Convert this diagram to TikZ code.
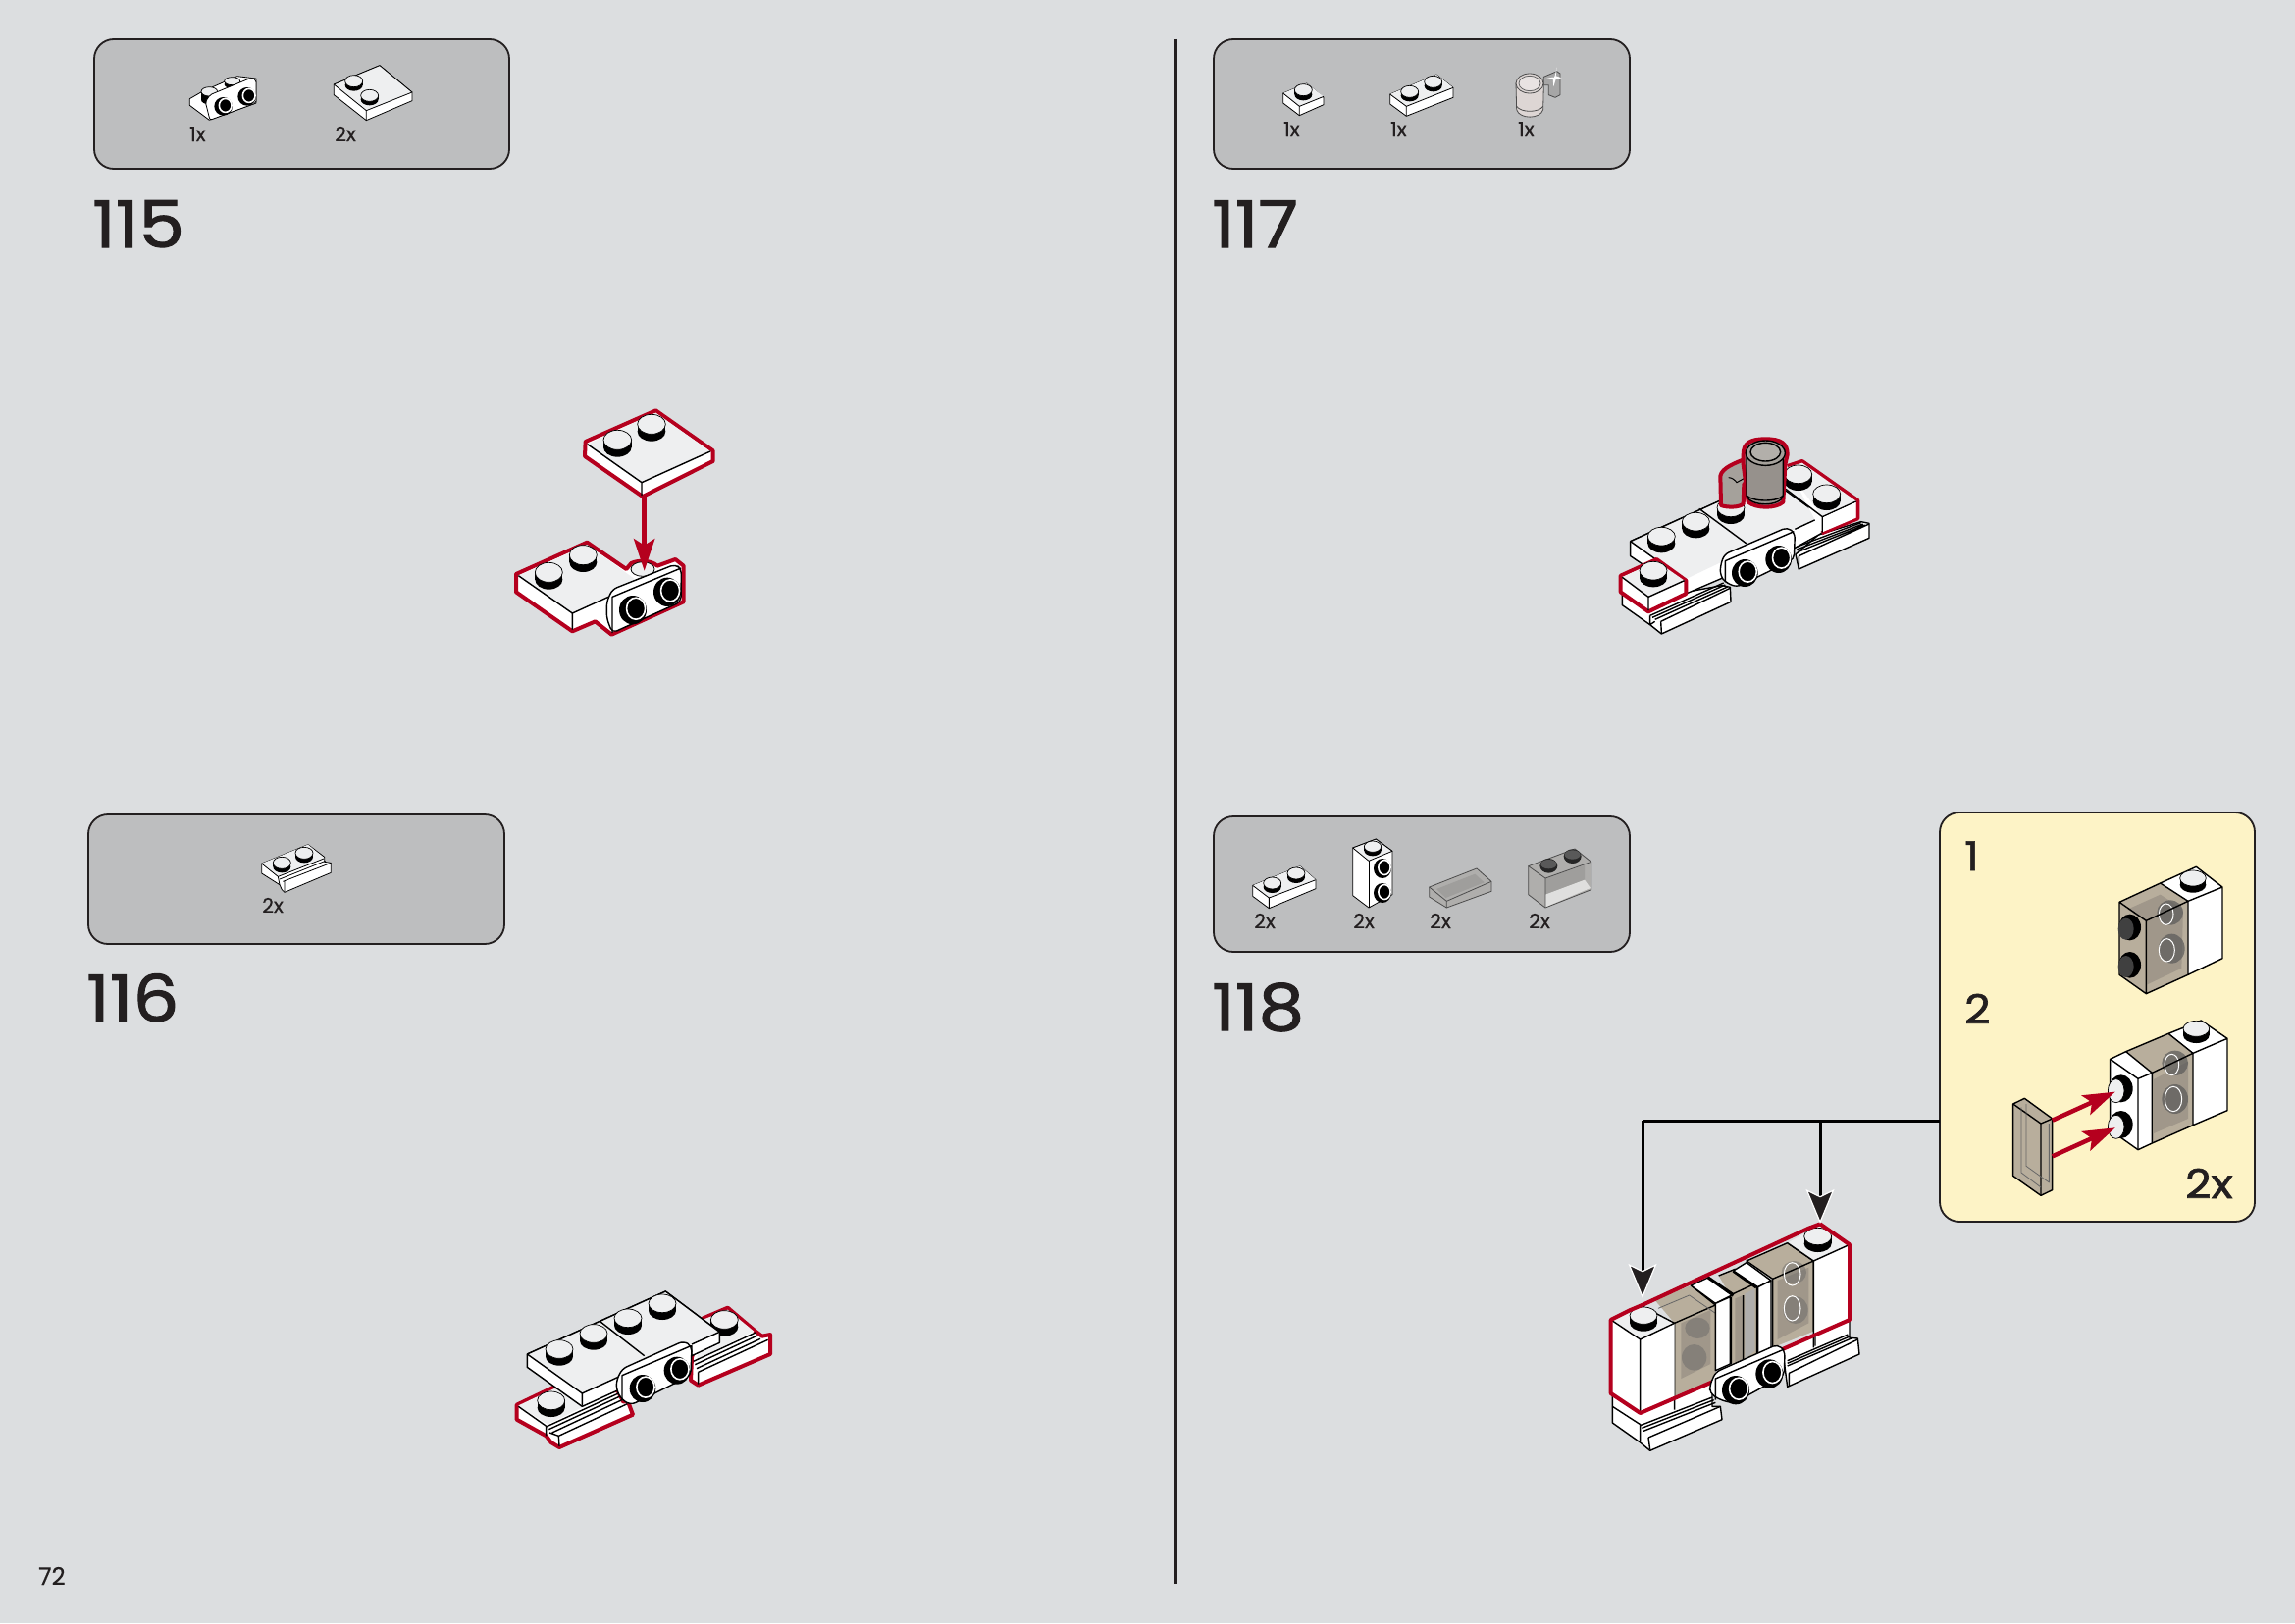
\documentclass[tikz,border=0pt]{standalone}
\usepackage{fontspec}
\setmainfont{Poppins}[FakeBold=0.35]
\newfontfamily\numf{Poppins}[FakeBold=1.6,FakeStretch=1.12]
\usetikzlibrary{arrows.meta}
\definecolor{bgc}{HTML}{DCDEE0}
\definecolor{panelc}{HTML}{BDBEBF}
\definecolor{yel}{HTML}{FDF3C6}
\definecolor{inkc}{HTML}{231F20}
\definecolor{redc}{HTML}{B5001E}
\definecolor{topc}{HTML}{EEEFF0}
\definecolor{cupd}{HTML}{96918C}
\definecolor{cupl}{HTML}{A5A19B}
\definecolor{cupt}{HTML}{DDD6D4}
\definecolor{cupi}{HTML}{E8E3E2}
\definecolor{transc}{HTML}{B8AE9C}
\definecolor{transd}{HTML}{A0978A}
\definecolor{transg}{HTML}{AFAEAC}
\definecolor{transh}{HTML}{9F9E9C}
\tikzset{
 zs/.style 2 args={shift={(#1,#2)},x=0.33333pt,y=-0.33333pt},
 panel/.style={draw=inkc,line width=1.8pt,fill=panelc,rounded corners=20pt,anchor=north west,inner sep=0pt,outer sep=0pt},
 stepnum/.style={anchor=base west,inner sep=0pt,text=inkc,font=\numf\fontsize{66}{66}\selectfont},
 cnt/.style={anchor=base west,inner sep=0pt,text=inkc,font=\fontsize{20.5}{20.5}\selectfont},
 big/.style={anchor=base west,inner sep=0pt,text=inkc,font=\numf\fontsize{41}{41}\selectfont},
 ln/.style={draw=black,line width=1.4pt,line join=round},
 thn/.style={draw=black,line width=0.8pt,line join=round},
 redo/.style={draw=redc,line width=4pt,line join=round},
 redarrow/.style={draw=redc,line width=4.5pt,-{Stealth[length=33pt,width=22pt,inset=7pt,fill=redc,color=redc,line width=0pt]}},
 blkline/.style={draw=black,line width=3pt},
 blkarrow/.style={draw=black,line width=3pt,-{Stealth[length=35pt,width=29pt,inset=7pt,fill=inkc,color=white,line width=1.2pt]}},
}
% stud: x y rx ry h
\newcommand{\stud}[5]{%
 \fill[black] (#1-#3,#2) rectangle (#1+#3,#2+#5);
 \fill[black] (#1,#2+#5) ellipse [x radius=#3,y radius=#4];
 \filldraw[fill=topc,draw=black,line width=0.7pt] (#1,#2) ellipse [x radius=#3,y radius=#4];
}
% side stud: x y rx ry
\newcommand{\sstud}[4]{%
 \fill[black] (#1,#2) ellipse [x radius=#3,y radius=#4];
 \draw[white,line width=1.6pt] (#1+0.22*#3,#2-0.1*#4) ellipse [x radius=0.68*#3,y radius=0.75*#4];
}
\begin{document}
\begin{tikzpicture}[x=1pt,y=-1pt]
\useasboundingbox (0,0) rectangle (2339,1654);
\fill[bgc] (0,0) rectangle (2339,1654);
% divider
\coordinate (dt) at (1198,40); \coordinate (db) at (1198,1614);
\draw[inkc,line width=3pt] (dt)--(db);
% panels
\node[panel,minimum width=423pt,minimum height=132pt] (p115) at (96,40) {};
\node[panel,minimum width=424pt,minimum height=132pt] (p116) at (90,830) {};
\node[panel,minimum width=424pt,minimum height=132pt] (p117) at (1237,40) {};
\node[panel,minimum width=424pt,minimum height=138pt] (p118) at (1237,832) {};
\node[panel,draw=inkc,fill=yel,minimum width=321pt,minimum height=417pt] (ypanel) at (1977,828) {};
% texts
\node[stepnum] (n115) at (94,252) {115};
\node[stepnum] (n116) at (88,1041) {116};
\node[stepnum] (n117) at (1235,252) {117};
\node[stepnum] (n118) at (1235,1050) {118};
\node[cnt,font=\fontsize{24.5}{24.5}\selectfont] (pg) at (39,1615) {72};
\node[cnt] (c1) at (193,144) {1x};
\node[cnt] (c2) at (341,144) {2x};
\node[cnt] (c3) at (267,930) {2x};
\node[cnt] (c4) at (1308,139) {1x};
\node[cnt] (c5) at (1417,139) {1x};
\node[cnt] (c6) at (1547,139) {1x};
\node[cnt] (c7) at (1278,946) {2x};
\node[cnt] (c8) at (1379,946) {2x};
\node[cnt] (c9) at (1457,946) {2x};
\node[cnt] (c10) at (1558,946) {2x};
\node[big] (y1) at (2002,887) {1};
\node[big] (y2) at (2002,1043) {2};
\node[big] (y3) at (2227,1221) {2x};
% ---------- parts panel 115
\begin{scope}[zs={80}{30}]
 \draw[thn,fill=white] (340,212)--(378,190)--(485,143)--(543,150)--(543,225)--(400,277)--(340,232)--cycle;
 \stud{400}{190}{25}{14}{25}
 \stud{470}{158}{24}{12}{10}
 \draw[thn,fill=white,rounded corners=2pt] (388,222)--(402,200)--(530,147)--(543,155)--(543,225)--(402,277)--cycle;
 \sstud{443}{235}{28}{28}
 \sstud{515}{205}{28}{28}
 \draw[thn,fill=white] (781,168)--(921,110)--(1020,192)--(1020,218)--(880,278)--(781,200)--cycle;
 \fill[topc] (781,168)--(921,110)--(1020,192)--(880,248)--cycle;
 \draw[thn] (781,168)--(921,110)--(1020,192)--(880,248)--cycle (880,248)--(880,278);
 \stud{842}{158}{27}{18}{12}
 \stud{890}{202}{27}{18}{12}
\end{scope}
% ---------- assembly 115
\begin{scope}[zs={500}{400}]
 \draw[redo,fill=white] (78,555)--(295,458)--(415,540)--(430,522)..controls (450,512) and (490,512)..(510,530)--(565,510)--(590,530)--(590,640)--(370,740)--(320,700)--(250,730)--(78,610)--cycle;
 \fill[topc] (85,560)--(295,465)--(440,570)--(355,628)--(250,675)--cycle;
 \draw[ln] (85,560)--(250,675)--(250,725) (250,675)--(360,625);
 \filldraw[fill=topc,draw=black,line width=0.8pt] (465,540) ellipse [x radius=36,y radius=22];
 \stud{178}{550}{42}{30}{22}
 \stud{283}{497}{42}{30}{22}
 \draw[ln,fill=white,rounded corners=5pt] (355,640)--(372,602)--(565,525)--(583,540)--(582,640)--(372,735)--(355,690)--cycle;
 \draw[ln] (372,735)--(372,625)--(582,537);
 \sstud{435}{665}{42}{44}
 \sstud{540}{610}{42}{44}
 \draw[redo,fill=white] (290,150)--(505,55)--(680,178)--(680,210)--(465,318)--(288,195)--cycle;
 \fill[topc] (296,158)--(505,62)--(672,180)--(462,275)--cycle;
 \draw[ln] (296,158)--(462,275)--(672,180) (462,275)--(462,315);
 \stud{388}{145}{43}{30}{22}
 \stud{492}{97}{43}{30}{22}
 \coordinate (ra1) at (470,318);
 \coordinate (ra2) at (470,545);
 \draw[redarrow] (ra1)--(ra2);
\end{scope}
% ---------- part panel 116
\begin{scope}[zs={90}{830}]
 \draw[thn,fill=white] (530,150)--(672,92)--(722,130)--(722,145)--(742,148)--(742,178)--(600,238)--(592,230)--(585,215)--(530,180)--cycle;
 \fill[topc] (530,150)--(672,92)--(720,133)--(580,190)--cycle;
 \draw[thn] (530,150)--(580,190)--(720,135) (585,198)--(725,142) (595,205)--(742,148) (600,205)--(600,238) (580,190)--(585,215);
 \stud{592}{148}{27}{18}{12}
 \stud{660}{118}{27}{18}{12}
\end{scope}
% ---------- assembly 116
\begin{scope}[zs={510}{1300}]
 % right rail plate
 \draw[redo,fill=white] (620,130)--(695,98)--(780,170)--(800,185)--(825,180)--(825,240)--(605,335)--(582,320)--(585,250)--cycle;
 \fill[topc] (625,132)--(695,104)--(775,170)--(600,255)--cycle;
 \stud{685}{135}{42}{28}{22}
 \draw[ln] (590,262)--(780,174) (595,272)--(786,183) (600,284)--(795,193) (605,295)--(818,196) (605,295)--(605,332);
 % left rail plate
 \draw[redo,fill=white] (50,395)--(165,340)--(200,340)--(300,360)--(358,350)--(375,385)--(390,385)--(405,425)--(180,525)--(155,510)--(140,490)--(50,440)--cycle;
 \fill[topc] (55,397)--(165,345)--(255,400)--(145,455)--cycle;
 \draw[ln] (55,400)--(140,460)--(140,490) (140,462)--(365,358) (148,470)--(372,366) (158,480)--(380,376) (178,490)--(388,392) (178,490)--(180,522) (150,480)--(178,490);
 \stud{155}{382}{42}{28}{22}
 % main plate
 \draw[ln,fill=white] (82,240)--(505,48)--(670,172)--(670,205)--(585,245)--(585,215)--(360,310)--(360,350)--(250,400)--(82,280)--cycle;
 \fill[topc] (82,240)--(505,48)--(670,172)--(585,210)--(360,310)--(250,360)--cycle;
 \draw[ln] (82,240)--(505,48)--(670,172)--(585,210) (360,310)--(250,360)--cycle (82,240)--(250,360)--(250,398) (305,140)--(440,245);
 \stud{180}{225}{42}{28}{22}
 \stud{285}{177}{42}{28}{22}
 \stud{390}{130}{42}{28}{22}
 \stud{495}{85}{42}{28}{22}
 % bracket
 \draw[ln,fill=white,rounded corners=5pt] (355,320)--(372,285)--(560,200)--(585,215)--(582,305)--(400,395)--(372,380)--(355,350)--cycle;
 \draw[ln] (372,380)--(372,305)--(582,215);
 \sstud{435}{345}{40}{42}
 \sstud{540}{290}{40}{42}
\end{scope}
% ---------- parts panel 117
\begin{scope}[zs={1240}{40}]
 \draw[thn,fill=white] (203,165)--(275,135)--(327,178)--(327,200)--(253,233)--(203,195)--cycle;
 \fill[topc] (203,165)--(275,135)--(327,175)--(253,205)--cycle;
 \draw[thn] (203,165)--(253,205)--(327,175) (253,205)--(253,233);
 \stud{265}{155}{27}{18}{14}
 \draw[thn,fill=white] (530,168)--(672,108)--(723,148)--(723,178)--(580,235)--(530,198)--cycle;
 \fill[topc] (530,168)--(672,108)--(723,148)--(580,205)--cycle;
 \draw[thn] (530,168)--(580,205)--(723,148) (580,205)--(580,235);
 \stud{590}{160}{27}{18}{12}
 \stud{662}{130}{27}{18}{12}
 % cup
 \draw[thn,draw=black!70,fill=black!35] (1000,115)--(1040,98)--(1050,105)--(1050,170)--(1035,178)--(1015,170)--(1015,140)--(1000,140)--cycle;
 \draw[thn,draw=black!70,fill=cupt] (915,135)--(917,215)..controls (925,245) and (990,245)..(998,215)--(1000,135)--cycle;
 \draw[thn,draw=black!70] (917,205)..controls (930,225) and (985,225)..(998,205);
 \draw[thn,draw=black!70,fill=cupt] (957,135) ellipse [x radius=42,y radius=30];
 \draw[thn,draw=black!60,fill=cupi] (957,135) ellipse [x radius=33,y radius=23];
 \fill[white] (1030,118)--(1034,112)--(1040,85)--(1037,112)--(1055,118)--(1037,122)--(1030,145)--(1028,122)--(1008,120)--(1027,116)--cycle;
\end{scope}
% ---------- assembly 117
\begin{scope}[zs={1640}{430}]
 % left rail
 \draw[ln,fill=white] (40,520)--(40,560)--(125,620)--(160,648)--(372,550)--(370,505)--(345,500)--(235,520)--(120,580)--cycle;
 \draw[ln] (125,592)--(350,492) (132,598)--(355,498) (140,604)--(362,504) (158,610)--(370,508) (158,610)--(160,645) (125,592)--(125,620) (125,620)--(140,610);
 % right rail
 \draw[ln,fill=white] (570,405)--(580,450)--(795,355)--(795,310)--(770,305)--(640,345)--cycle;
 \draw[ln] (572,382)--(770,308) (574,390)--(776,312) (576,398)--(782,315) (580,410)--(795,312) (580,410)--(580,450);
 % main plate
 \draw[ln,fill=white] (65,365)--(65,410)--(235,525)--(340,480)--(568,385)--(650,340)--(650,290)--(540,150)--cycle;
 \fill[topc] (65,365)--(340,240)--(540,150)--(650,290)--(568,328)--(340,430)--(235,480)--cycle;
 \draw[ln] (65,365)--(340,240) (65,365)--(170,440) (275,265)--(420,372) (540,210)--(650,290) (568,328)--(650,290);
 \stud{160}{350}{42}{28}{22}
 \stud{265}{305}{42}{28}{22}
 \stud{372}{262}{42}{28}{22}
 % right upper plate
 \draw[redo,fill=white] (545,135)--(590,120)--(760,240)--(760,295)--(650,340);
 \fill[topc] (540,140)--(590,125)--(755,242)--(652,290)--cycle;
 \draw[ln] (540,205)--(652,290)--(755,243) (652,290)--(652,338);
 \fill[white] (654,292)--(755,246)--(755,293)--(654,336)--cycle;
 \stud{578}{160}{42}{28}{22}
 \stud{665}{220}{42}{28}{22}
 % handle
 \draw[redo,fill=cupl] (342,255)--(340,165)..controls (345,140) and (385,125)..(425,110)--(445,170)--(412,190)--(410,250)..controls (400,262) and (360,262)..(342,255)--cycle;
 \draw[line width=1pt] (365,170)..controls (375,170) and (385,178)..(390,185)--(435,160);
 % cup
 \draw[redo,fill=cupd] (410,100)..controls (410,65) and (430,52)..(478,52)..controls (525,52) and (545,65)..(545,100)--(538,130)--(532,245)..controls (510,265) and (450,265)..(425,245)--(410,130)--cycle;
 \draw[ln,fill=cupd] (420,100)--(420,225)..controls (430,260) and (525,260)..(532,225)--(532,100)--cycle;
 \draw[ln] (420,225)..controls (440,245) and (515,245)..(532,225);
 \draw[ln,fill=cupl] (478,95) ellipse [x radius=60,y radius=38];
 \draw[ln,fill=cupl!85!white] (478,92) ellipse [x radius=46,y radius=28];
 % front left plate
 \draw[redo,fill=white] (35,470)--(145,420)--(235,485)--(235,525)--(120,580)--(35,520)--cycle;
 \fill[topc] (40,474)--(145,426)--(230,485)--(120,535)--cycle;
 \draw[ln] (40,475)--(120,535)--(230,485) (120,535)--(120,576);
 \stud{135}{455}{42}{28}{22}
 % bracket
 \draw[ln,fill=white,rounded corners=5pt] (340,440)--(352,405)--(545,322)--(568,340)--(565,420)--(390,505)--(355,490)--(340,470)--cycle;
 \draw[ln] (355,490)--(355,425)--(565,335);
 \sstud{415}{462}{40}{42}
 \sstud{518}{420}{40}{42}
\end{scope}
% ---------- parts panel 118
\begin{scope}[zs={1240}{840}]
 \draw[thn,fill=white] (110,187)--(255,128)--(303,170)--(303,197)--(160,257)--(110,220)--cycle;
 \fill[topc] (110,187)--(255,128)--(303,170)--(160,225)--cycle;
 \draw[thn] (110,187)--(160,225)--(303,170) (160,225)--(160,255);
 \stud{170}{180}{27}{18}{12}
 \stud{243}{150}{27}{18}{12}
 \draw[thn,fill=white] (416,72)--(487,45)--(537,82)--(537,215)--(465,255)--(416,218)--cycle;
 \draw[thn,fill=topc] (416,72)--(487,45)--(537,82)--(465,112)--cycle;
 \draw[thn] (465,112)--(465,255);
 \stud{477}{68}{26}{17}{12}
 \sstud{507}{135}{27}{30}
 \sstud{507}{210}{27}{30}
 \draw[thn,draw=black!70,fill=transg] (650,192)--(795,135)--(840,175)--(840,205)--(703,255)--(650,222)--cycle;
 \fill[transh] (672,198)--(790,152)--(818,178)--(700,225)--cycle;
 \draw[thn,draw=black!70] (650,192)--(703,235)--(840,175) (703,235)--(703,255);
 \draw[thn,draw=black!70,fill=transg] (953,128)--(1095,75)--(1145,115)--(1145,200)--(1005,255)--(953,215)--cycle;
 \fill[transh] (1005,165)--(1125,125)--(1125,170)--(1005,215)--cycle;
 \fill[white!60!transg] (1005,215)--(1125,170)--(1143,195)--(1005,253)--cycle;
 \draw[thn,draw=black!70] (953,128)--(1005,165)--(1145,115) (1005,165)--(1005,255);
 \fill[black!85] (1015,127) ellipse [x radius=27,y radius=22];
 \fill[black!65] (1015,122) ellipse [x radius=24,y radius=14];
 \fill[black!85] (1088,98) ellipse [x radius=27,y radius=22];
 \fill[black!65] (1088,93) ellipse [x radius=24,y radius=14];
\end{scope}
% ---------- assembly 118
\begin{scope}[zs={1620}{1220}]
 % lower rails and plate
 \draw[ln,fill=white] (70,600)--(70,690)--(155,750)--(185,775)--(405,680)--(400,640)--(375,640)--(375,565)--(155,660)--cycle;
 \draw[ln] (70,640)--(155,695)--(155,745) (155,698)--(375,612) (160,706)--(380,620) (165,715)--(385,628) (180,735)--(400,640) (180,735)--(185,772) (260,610)--(260,650);
 \draw[ln,fill=white] (590,465)--(605,580)--(825,480)--(820,432)--(795,430)--(795,375)--cycle;
 \draw[ln] (605,500)--(790,420) (605,508)--(795,426) (605,516)--(800,432) (610,538)--(820,435) (610,538)--(610,578) (690,415)--(690,455);
 % trans bricks
 \fill[transc] (260,385)--(200,315)--(310,270)--(385,330)--(385,565)--(260,610)--cycle;
 \fill[transd] (280,385)--(370,345)--(370,510)--(280,555)--cycle;
 \fill[black!60,opacity=.45] (330,400) ellipse [x radius=38,y radius=32];
 \fill[black!60,opacity=.45] (320,490) ellipse [x radius=38,y radius=40];
 \draw[ln] (260,385)--(385,330)--(310,270) (260,385)--(260,610);
 \draw[thn,draw=black!60] (210,340)--(305,300)--(385,355);
 \fill[transc] (560,250)--(480,195)--(605,140)--(685,195)--(685,410)--(560,460)--cycle;
 \fill[transd] (575,255)--(670,215)--(670,385)--(575,435)--cycle;
 \fill[black!60,opacity=.45] (625,230) ellipse [x radius=38,y radius=35];
 \fill[black!60,opacity=.45] (630,345) ellipse [x radius=38,y radius=42];
 \draw[ln] (560,250)--(480,195)--(605,140)--(685,195)--(685,410) (560,250)--(685,195) (560,250)--(560,460);
 \draw[white,line width=1pt] (620,235) ellipse [x radius=25,y radius=35];
 \draw[white,line width=1pt] (620,340) ellipse [x radius=25,y radius=38];
 % centre tiles
 \fill[transc] (395,240)--(445,220)--(515,275)--(515,490)--(430,510)--(430,300)--cycle;
 \fill[transd] (445,310)--(470,300)--(470,500)--(445,505)--cycle;
 \fill[transg] (475,295)--(505,280)--(505,470)--(475,495)--cycle;
 \draw[ln] (395,240)--(445,220)--(515,275) (430,300)--(505,265) (470,300)--(470,500);
 \draw[line width=3.6pt] (360,245)--(440,300) (430,305)--(430,510);
 \draw[line width=3.6pt] (515,275)--(515,490) (440,225)--(510,275);
 \draw[ln,fill=white] (310,270)--(360,247)--(435,300)--(385,325)--cycle;
 \draw[ln,fill=white] (385,325)--(430,305)--(430,510)--(385,530)--cycle;
 \draw[ln,fill=white] (440,225)--(480,200)--(555,255)--(515,275)--cycle;
 \draw[ln,fill=white] (515,275)--(555,255)--(555,470)--(515,490)--cycle;
 % left brick
 \fill[white] (70,375)--(165,330)--(260,385)--(260,610)--(155,660)--(70,600)--cycle;
 \fill[topc] (70,375)--(165,330)--(260,385)--(155,435)--cycle;
 \draw[ln] (70,378)--(155,435)--(260,385) (155,435)--(155,660) (165,335)--(260,385);
 \stud{165}{362}{42}{26}{22}
 % right brick
 \fill[white] (685,195)--(795,145)--(795,375)--(685,420)--cycle;
 \fill[topc] (605,140)--(705,85)--(795,145)--(685,195)--cycle;
 \draw[ln] (605,140)--(685,195)--(795,145) (685,195)--(685,415) (685,415)--(685,460);
 \stud{698}{120}{42}{26}{22}
 % red outline
 \draw[redo] (375,565)--(155,660)--(65,600)--(65,375)--(125,345)--(165,328)--(670,95)--(705,82)--(795,145)--(795,375)--(590,465);
 % bracket
 \draw[ln,fill=white,rounded corners=5pt] (368,575)--(385,535)--(575,450)--(597,470)--(595,545)--(440,630)--(400,620)--(368,600)--cycle;
 \draw[ln] (385,620)--(385,555)--(595,465);
 \sstud{447}{590}{42}{44}
 \sstud{550}{540}{42}{44}
\end{scope}
% ---------- yellow panel
\begin{scope}[zs={1980}{830}]
 % brick 1
 \fill[white] (665,210)--(775,160)--(855,222)--(855,440)--(750,490)--(750,265)--cycle;
 \fill[transc] (540,268)--(665,210)--(750,265)--(750,490)--(622,548)--(540,490)--cycle;
 \fill[transd] (565,290)--(665,245)--(735,290)--(730,470)--(625,520)--(625,330)--cycle;
 \fill[black!65,opacity=.7] (695,300) ellipse [x radius=40,y radius=38];
 \fill[black!65,opacity=.7] (700,410) ellipse [x radius=40,y radius=45];
 \draw[white,line width=1pt] (683,305) ellipse [x radius=22,y radius=32];
 \draw[white,line width=1pt] (685,415) ellipse [x radius=24,y radius=35];
 \draw[ln] (540,268)--(665,210)--(775,160)--(855,222)--(855,440)--(750,490)--(622,548)--(540,490)--cycle (540,268)--(622,325)--(750,265)--(665,210) (622,325)--(622,548) (750,265)--(750,490) (750,265)--(855,222);
 \fill[black] (572,345) ellipse [x radius=34,y radius=40];
 \fill[black!75] (560,350) ellipse [x radius=24,y radius=33];
 \fill[black] (572,460) ellipse [x radius=34,y radius=40];
 \fill[black!75] (560,465) ellipse [x radius=24,y radius=33];
 \stud{765}{195}{40}{24}{20}
 % brick 2
 \fill[white] (690,670)--(790,630)--(870,685)--(870,905)--(765,950)--(765,730)--cycle;
 \fill[transc] (560,725)--(690,670)--(765,730)--(765,950)--(640,1005)--(640,790)--cycle;
 \fill[transd] (645,810)--(750,755)--(750,930)--(645,975)--cycle;
 \fill[black!65,opacity=.7] (710,760) ellipse [x radius=40,y radius=38];
 \fill[black!65,opacity=.7] (710,870) ellipse [x radius=40,y radius=45];
 \draw[white,line width=1pt] (700,765) ellipse [x radius=22,y radius=32];
 \draw[white,line width=1pt] (705,870) ellipse [x radius=26,y radius=38];
 \draw[ln] (690,670)--(790,630)--(870,685)--(870,905)--(765,950)--(640,1005) (640,790)--(765,730)--(690,670)--(560,725) (765,730)--(870,685) (765,730)--(765,950);
 \draw[ln,fill=white] (512,748)--(560,725)--(640,790)--(640,1005)--(597,1025)--(512,965)--cycle;
 \draw[ln] (512,748)--(597,808)--(597,1025) (597,808)--(640,790);
 \stud{775}{655}{40}{24}{20}
 \fill[black] (545,838) ellipse [x radius=36,y radius=42];
 \filldraw[fill=topc,draw=black,line width=.7pt] (530,845) ellipse [x radius=25,y radius=36];
 \fill[black] (545,948) ellipse [x radius=36,y radius=42];
 \filldraw[fill=topc,draw=black,line width=.7pt] (530,955) ellipse [x radius=25,y radius=36];
 % tile
 \draw[ln,fill=transc] (215,885)--(250,868)--(335,930)--(335,1148)--(300,1165)--(215,1105)--cycle;
 \draw[ln] (215,885)--(300,945)--(335,930) (300,945)--(300,1165);
 \draw[thn,draw=black!60] (240,895)--(240,1095)--(300,1140) (255,885)--(255,1075)--(325,1125)--(325,945);
 % red arrows
 \coordinate (r1a) at (335,935); \coordinate (r1b) at (527,848);
 \coordinate (r2a) at (335,1045); \coordinate (r2b) at (527,958);
 \draw[redarrow] (r1a)--(r1b);
 \draw[redarrow] (r2a)--(r2b);
\end{scope}
% connectors from inset
\coordinate (jn1) at (1674,1142);
\coordinate (jn2) at (1855,1142);
\coordinate (tp1) at (1674,1323);
\coordinate (tp2) at (1855,1247);
\draw[blkline] (ypanel.west |- jn1)--(jn1);
\draw[blkarrow] (jn1)--(tp1);
\draw[blkarrow] (jn2)--(tp2);
\end{tikzpicture}
\end{document}
